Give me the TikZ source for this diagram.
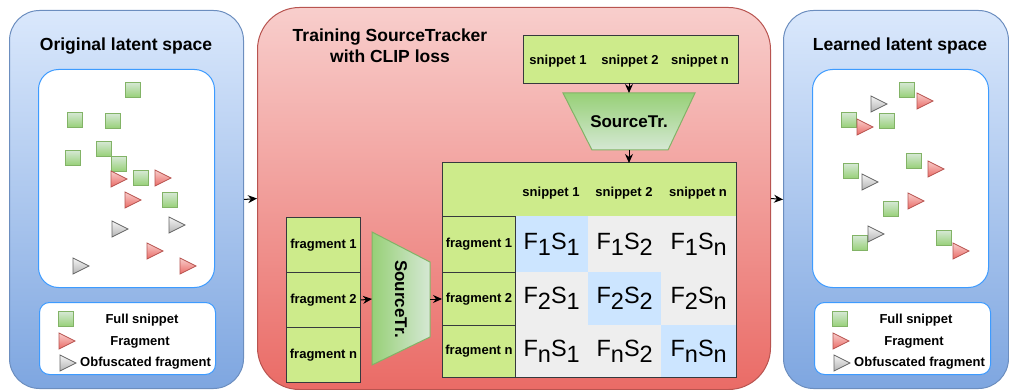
\documentclass[tikz,border=0pt]{standalone}
\usepackage{fontspec}
\setmainfont{Liberation Sans}
\usetikzlibrary{arrows.meta}
\definecolor{bluetop}{HTML}{DAE8FC}
\definecolor{bluebot}{HTML}{7EA6E0}
\definecolor{bluebd}{HTML}{6C8EBF}
\definecolor{redtop}{HTML}{F8CECC}
\definecolor{redbot}{HTML}{EA6B66}
\definecolor{redbd}{HTML}{B85450}
\definecolor{lime}{HTML}{CDEB8B}
\definecolor{limebd}{HTML}{36393D}
\definecolor{grdark}{HTML}{97D077}
\definecolor{grlight}{HTML}{D5E8D4}
\definecolor{grbd}{HTML}{82B366}
\definecolor{cellblue}{HTML}{CCE5FF}
\definecolor{cellgray}{HTML}{EEEEEE}
\definecolor{innerbd}{HTML}{3D9BFF}
\definecolor{graytop}{HTML}{F5F5F5}
\definecolor{graybot}{HTML}{B3B3B3}
\definecolor{graybd}{HTML}{666666}
\tikzset{
  bluepanel/.style={draw=bluebd, top color=bluetop, bottom color=bluebot, rounded corners=30pt, anchor=north west, inner sep=0pt, line width=1pt},
  redpanel/.style={draw=redbd, top color=redtop, bottom color=redbot, rounded corners=42pt, anchor=north west, inner sep=0pt, line width=1pt},
  innerbox/.style={draw=innerbd, fill=white, rounded corners=20pt, anchor=north west, inner sep=0pt, line width=1pt, minimum width=176pt, minimum height=218pt},
  legbox/.style={draw=innerbd, fill=white, rounded corners=10pt, anchor=north west, inner sep=0pt, line width=1pt, minimum width=176pt, minimum height=72pt},
  title/.style={font=\bfseries\fontsize{17.5}{21}\selectfont, align=center},
  small/.style={font=\bfseries\fontsize{13}{15}\selectfont, inner sep=0pt},
  limebox/.style={draw=limebd, fill=lime, anchor=north west, inner sep=0pt, line width=1pt},
  cell/.style={anchor=north west, inner sep=0pt, minimum width=73pt, font=\fontsize{23.5}{27}\selectfont},
  arr/.style={-{Stealth[length=9pt,width=8pt]}, line width=1pt, black},
  sq/.pic={\path[draw=grbd, top color=grlight, bottom color=grdark, line width=0.8pt] (-7.5,-7.5) rectangle (7.5,7.5);},
  rtri/.pic={\path[draw=redbd, top color=redtop, bottom color=redbot, line width=0.8pt] (-8,-8) -- (8,0) -- (-8,8) -- cycle;},
  gtri/.pic={\path[draw=graybd, top color=graytop, bottom color=graybot, line width=0.8pt] (-8,-8) -- (8,0) -- (-8,8) -- cycle;},
}
\newcommand{\FS}[2]{\raisebox{2.5pt}{F\raisebox{-6pt}{#1}S\raisebox{-6pt}{#2}}}
\begin{document}
\begin{tikzpicture}[x=1pt,y=-1pt]
\useasboundingbox (0,0) rectangle (1009,390);

% panels
\node[bluepanel, minimum width=234pt, minimum height=378pt] (lp) at (9,10) {};
\node[redpanel, minimum width=513pt, minimum height=382pt] (mp) at (257,7) {};
\node[bluepanel, minimum width=225pt, minimum height=378pt] (rp) at (783,10) {};

\draw[arr] (lp.east) -- (mp.west);
\draw[arr] (mp.east) -- (rp.west);

% left panel
\node[title] (lt) at (126,46) {Original latent space};
\node[innerbox] (lin) at (38,69) {};
\node[legbox] (lleg) at (39,302) {};

\foreach \p in {(133,90),(75,120),(113,121),(104,149),(73,158),(119,164),(141,178),(170,200)}
  \pic at \p {sq};
\foreach \p in {(119,179),(163,178),(133,200),(155,251),(188,266)}
  \pic at \p {rtri};
\foreach \p in {(120,229),(177,225),(81,266)}
  \pic at \p {gtri};

\pic at (66,319) {sq};
\pic at (67,341) {rtri};
\pic at (68,363) {gtri};
\node[small] (ll1) at (142,320) {Full snippet};
\node[small] (ll2) at (140,342) {Fragment};
\node[small, anchor=west] (ll3) at (80,363) {Obfuscated fragment};

% right panel
\node[title] (rt) at (900,46) {Learned latent space};
\node[innerbox] (rin) at (812,69) {};
\node[legbox] (rleg) at (814,302) {};

\foreach \p in {(907,90),(849,120),(887,121),(914,161),(851,171),(891,209),(944,238),(860,243)}
  \pic at \p {sq};
\foreach \p in {(925,101),(865,127),(936,169),(916,201),(961,251)}
  \pic at \p {rtri};
\foreach \p in {(879,104),(870,182),(876,234)}
  \pic at \p {gtri};

\pic at (840,319) {sq};
\pic at (841,341) {rtri};
\pic at (842,363) {gtri};
\node[small] (rl1) at (916,320) {Full snippet};
\node[small] (rl2) at (914,342) {Fragment};
\node[small, anchor=west] (rl3) at (854,363) {Obfuscated fragment};

% middle panel
\node[title] (mt) at (390,46) {Training SourceTracker\\with CLIP loss};

% top snippets box
\node[limebox, minimum width=215pt, minimum height=48pt] (sn) at (523,35) {};
\node[small] (sn1) at (558,61) {snippet 1};
\node[small] (sn2) at (630,61) {snippet 2};
\node[small] (snn) at (700,61) {snippet n};

% top SourceTracker trapezoid
\path[draw=grbd, top color=grdark, bottom color=grlight, line width=1pt]
  (563,93) -- (695,93) -- (668,150) -- (592,150) -- cycle;
\node[font=\bfseries\fontsize{17}{20}\selectfont] (st1) at (629,122) {SourceTr.};
\coordinate (st1t) at (629,93);
\coordinate (st1b) at (629,150);
\coordinate (snb) at (629,83);
\draw[arr] (snb) -- (st1t);

% similarity matrix
\node[cell, fill=cellblue, minimum height=56pt] (c11) at (515,216) {\FS{1}{1}};
\node[cell, fill=cellgray, minimum height=56pt] (c12) at (588,216) {\FS{1}{2}};
\node[cell, fill=cellgray, minimum height=56pt, minimum width=75pt] (c1n) at (661,216) {\FS{1}{n}};
\node[cell, fill=cellgray, minimum height=53pt] (c21) at (515,272) {\FS{2}{1}};
\node[cell, fill=cellblue, minimum height=53pt] (c22) at (588,272) {\FS{2}{2}};
\node[cell, fill=cellgray, minimum height=53pt, minimum width=75pt] (c2n) at (661,272) {\FS{2}{n}};
\node[cell, fill=cellgray, minimum height=52pt] (cn1) at (515,325) {\FS{n}{1}};
\node[cell, fill=cellgray, minimum height=52pt] (cn2) at (588,325) {\FS{n}{2}};
\node[cell, fill=cellblue, minimum height=52pt, minimum width=75pt] (cnn) at (661,325) {\FS{n}{n}};

\node[anchor=north west, fill=lime, inner sep=0pt, minimum width=294pt, minimum height=53pt] (hd) at (442,163) {};
\draw[draw=limebd, line width=1pt] (442,163) rectangle (736,377);
\node[small] (h1) at (551,193) {snippet 1};
\node[small] (h2) at (624,193) {snippet 2};
\node[small] (hn) at (698,193) {snippet n};
\coordinate (mxt) at (629,163);
\draw[arr] (st1b) -- (mxt);

\node[limebox, minimum width=73pt, minimum height=56pt] (fr1) at (442,216) {};
\node[limebox, minimum width=73pt, minimum height=53pt] (fr2) at (442,272) {};
\node[limebox, minimum width=73pt, minimum height=52pt] (frn) at (442,325) {};
\node[small] at (fr1.center) {fragment 1};
\node[small] at (fr2.center) {fragment 2};
\node[small] at (frn.center) {fragment n};

% left fragments
\node[limebox, minimum width=74pt, minimum height=55pt] (fb1) at (286,217) {};
\node[limebox, minimum width=74pt, minimum height=55pt] (fb2) at (286,272) {};
\node[limebox, minimum width=74pt, minimum height=55pt] (fbn) at (286,327) {};
\node[small] at (fb1.center) {fragment 1};
\node[small] at (fb2.center) {fragment 2};
\node[small] at (fbn.center) {fragment n};

% vertical SourceTracker trapezoid
\path[draw=grbd, left color=grdark, right color=grlight, line width=1pt]
  (372,232) -- (430,262) -- (430,337) -- (372,365) -- cycle;
\node[font=\bfseries\fontsize{17}{20}\selectfont, rotate=-90] (st2) at (401,299) {SourceTr.};
\coordinate (st2l) at (372,299);
\coordinate (st2r) at (430,299);
\draw[arr] (fb2.east) -- (st2l);
\draw[arr] (st2r) -- (fr2.west);
\end{tikzpicture}
\end{document}
